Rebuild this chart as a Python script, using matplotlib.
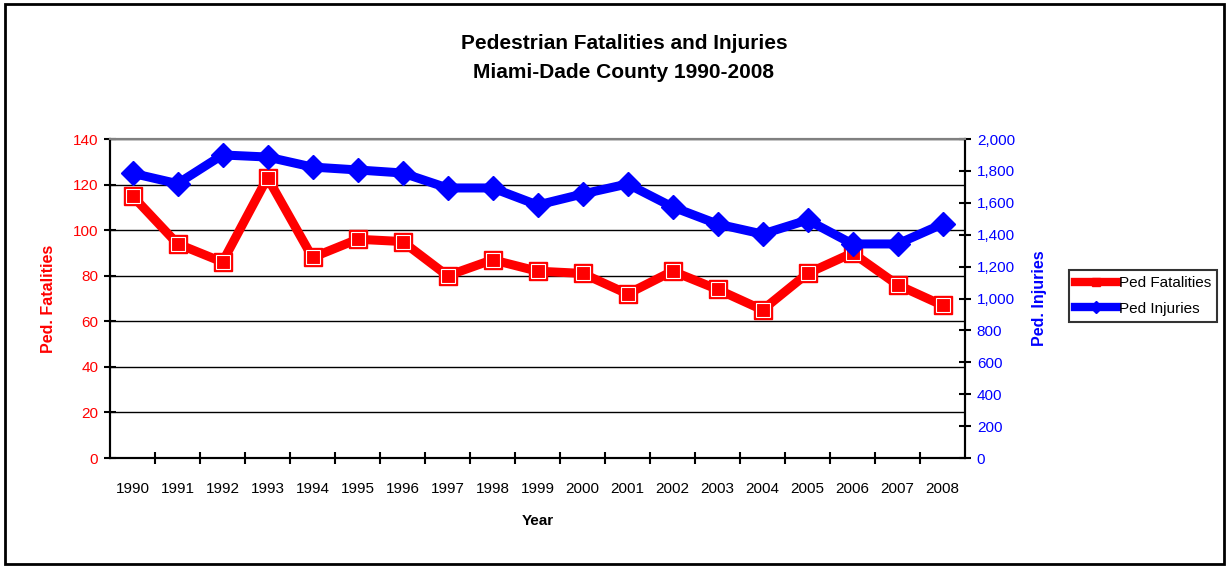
import matplotlib.pyplot as plt
from matplotlib.lines import Line2D
from matplotlib.patches import Rectangle
from matplotlib.ticker import FuncFormatter

plt.rcParams['font.family'] = ['Liberation Sans', 'DejaVu Sans']

# Data
years = [1990, 1991, 1992, 1993, 1994, 1995, 1996, 1997, 1998, 1999,
         2000, 2001, 2002, 2003, 2004, 2005, 2006, 2007, 2008]
fatalities = [115, 94, 86, 123, 88, 96, 95, 80, 87, 82,
              81, 72, 82, 74, 65, 81, 90, 76, 67]
injuries = [1785, 1720, 1900, 1887, 1824, 1806, 1787, 1693, 1693, 1586,
            1655, 1718, 1574, 1467, 1404, 1492, 1342, 1342, 1467]

RED = '#ff0000'
BLUE = '#0000ff'

fig = plt.figure(figsize=(12.28, 5.68), dpi=100)
ax = fig.add_axes([110 / 1228, 110 / 568, 855 / 1228, 319 / 568])
ax2 = ax.twinx()

x = list(range(len(years)))

# fatalities on left axis
ax.plot(x, fatalities, color=RED, lw=6.5, marker='s', ms=12.5, mfc=RED, mec=RED,
        solid_joinstyle='miter', zorder=3)
ax.plot(x, fatalities, ls='none', marker='s', ms=9.5, mfc='none', mec='white',
        mew=0.8, zorder=4)

# injuries on right axis
ax2.plot(x, injuries, color=BLUE, lw=6.5, marker='D', ms=12.5, mfc=BLUE, mec=BLUE,
         solid_joinstyle='miter', zorder=3)

ax.set_xlim(-0.5, len(years) - 0.5)
ax.set_ylim(0, 140)
ax2.set_ylim(0, 2000)
ax.set_yticks(range(0, 141, 20))
ax2.set_yticks(range(0, 2001, 200))
ax2.yaxis.set_major_formatter(FuncFormatter(lambda v, p: f'{int(v):,}'))

ax.set_xticks(x)
ax.set_xticklabels([str(y) for y in years])
ax.set_xticks([i + 0.5 for i in x[:-1]], minor=True)
ax.tick_params(axis='x', which='major', length=0, pad=17, labelsize=11)
ax.tick_params(axis='x', which='minor', direction='inout', length=8, width=1.5)
ax.tick_params(axis='y', direction='inout', length=9, width=1.5,
               labelsize=11, labelcolor=RED, pad=4)
ax2.tick_params(axis='y', direction='inout', length=9, width=1.5,
                labelsize=11, labelcolor=BLUE, pad=4)

for a in (ax, ax2):
    for s in ('left', 'right', 'bottom'):
        a.spines[s].set_linewidth(1.5)
        a.spines[s].set_color('black')
    a.spines['top'].set_color('#808080')
    a.spines['top'].set_linewidth(1.5)

ax.grid(axis='y', color='black', lw=1)
ax.set_axisbelow(True)

ax.set_xlabel('Year', fontsize=11, fontweight='bold', labelpad=13)
ax.set_ylabel('Ped. Fatalities', fontsize=11.5, fontweight='bold', color=RED,
              labelpad=12)
ax2.set_ylabel('Ped. Injuries', fontsize=11.5, fontweight='bold', color=BLUE,
               labelpad=12)

fig.text(0.508, 0.924, 'Pedestrian Fatalities and Injuries', ha='center',
         va='center', fontsize=15, fontweight='bold')
fig.text(0.508, 0.873, 'Miami-Dade County 1990-2008', ha='center',
         va='center', fontsize=15, fontweight='bold')

handles = [
    Line2D([], [], color=RED, lw=6, marker='s', ms=6, mfc=RED, mec=RED),
    Line2D([], [], color=BLUE, lw=6, marker='D', ms=6, mfc=BLUE, mec=BLUE),
]
leg = fig.legend(handles, ['Ped Fatalities', 'Ped Injuries'],
                 loc='upper left', bbox_to_anchor=(1069 / 1228, 1 - 270 / 568),
                 fontsize=11, frameon=True, fancybox=False, handlelength=2.75,
                 handletextpad=0.1, borderpad=0.4, borderaxespad=0,
                 labelspacing=0.75)
leg.get_frame().set_edgecolor('black')
leg.get_frame().set_linewidth(1.5)

# outer chart border
fig.patches.append(Rectangle((5 / 1228, 4 / 568), 1219 / 1228, 560 / 568,
                             transform=fig.transFigure, fill=False,
                             edgecolor='black', lw=2))

fig.savefig('out.png', dpi=100)
